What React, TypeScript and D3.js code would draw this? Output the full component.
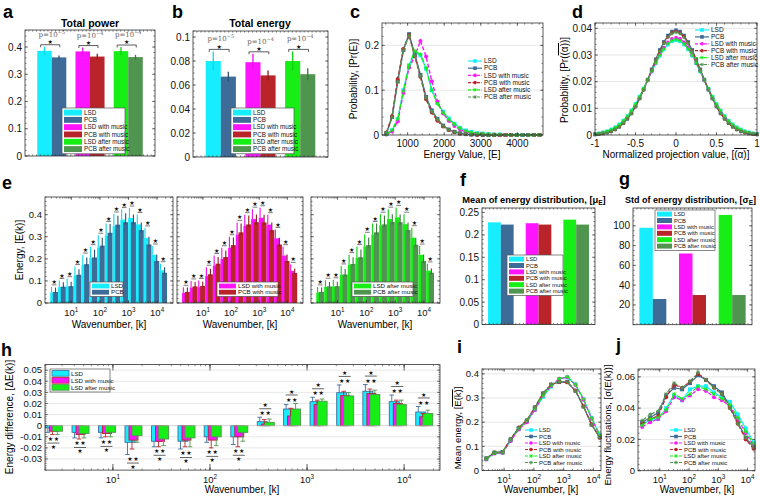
import React from "react";
import * as d3 from "d3";

const F = "Arial, 'Liberation Sans', Helvetica, sans-serif";
const SERIF = "'DejaVu Serif', 'Liberation Serif', serif";
const SYM = "'DejaVu Sans', sans-serif";

// ================= DATA =================
const seriesNames = ["LSD", "PCB", "LSD with music", "PCB with music", "LSD after music", "PCB after music"];
const seriesColors = ["#16eeff", "#3d6c98", "#ff14ff", "#b8242a", "#16ee16", "#4f944f"];
const errColors = ["#10d8ea", "#2b4f74", "#ee10ee", "#8a1a1f", "#10d010", "#3a763a"];
const seriesDash = ["none", "none", "4 2", "4 2", "5 2 1 2", "5 2 1 2"];
const seriesMarker = ["square", "square", "circle", "circle", "star", "star"];

// a: total power
const powerMeans = [0.386, 0.362, 0.384, 0.365, 0.385, 0.363];
const powerErrs = [0.015, 0.007, 0.014, 0.010, 0.015, 0.008];
const powerP = ["\u22125", "\u22124", "\u22124"];
// b: total energy
const energyMeans = [0.080, 0.067, 0.079, 0.068, 0.080, 0.069];
const energyErrs = [0.008, 0.004, 0.007, 0.004, 0.008, 0.005];
const energyP = ["\u22125", "\u22124", "\u22124"];

// c: energy distribution
const energyBins = [420, 575, 730, 885, 1040, 1195, 1350, 1505, 1660, 1815, 1970, 2125, 2280, 2435, 2590, 2745, 2900, 3055, 3210, 3365, 3520, 3675, 3830, 3985, 4140, 4295, 4450, 4605];
const probLSD = [0.002, 0.010, 0.035, 0.100, 0.155, 0.184, 0.178, 0.148, 0.100, 0.072, 0.052, 0.037, 0.025, 0.016, 0.010, 0.007, 0.004, 0.003, 0.002, 0.001, 0.001, 0, 0, 0, 0, 0, 0, 0];
const probPCB = [0.004, 0.040, 0.120, 0.190, 0.225, 0.180, 0.134, 0.085, 0.055, 0.036, 0.021, 0.012, 0.007, 0.004, 0.002, 0.001, 0.001, 0, 0, 0, 0, 0, 0, 0, 0, 0, 0, 0];
const probLSDm = [0.001, 0.008, 0.030, 0.094, 0.150, 0.176, 0.210, 0.175, 0.120, 0.075, 0.048, 0.032, 0.020, 0.012, 0.007, 0.004, 0.003, 0.002, 0.001, 0.001, 0, 0, 0, 0, 0, 0, 0, 0];
const probPCBm = [0.005, 0.042, 0.125, 0.192, 0.223, 0.176, 0.130, 0.080, 0.050, 0.032, 0.019, 0.011, 0.006, 0.003, 0.002, 0.001, 0, 0, 0, 0, 0, 0, 0, 0, 0, 0, 0, 0];
const probLSDa = [0.002, 0.011, 0.036, 0.098, 0.156, 0.188, 0.180, 0.150, 0.100, 0.070, 0.050, 0.035, 0.024, 0.015, 0.009, 0.006, 0.004, 0.003, 0.002, 0.001, 0.001, 0, 0, 0, 0, 0, 0, 0];
const probPCBa = [0.004, 0.040, 0.118, 0.190, 0.222, 0.178, 0.132, 0.083, 0.053, 0.035, 0.020, 0.012, 0.007, 0.004, 0.002, 0.001, 0.001, 0, 0, 0, 0, 0, 0, 0, 0, 0, 0, 0];

// d: projection distribution
const projBins = [-1, -0.95, -0.9, -0.85, -0.8, -0.75, -0.7, -0.65, -0.6, -0.55, -0.5, -0.45, -0.4, -0.35, -0.3, -0.25, -0.2, -0.15, -0.1, -0.05, 0, 0.05, 0.1, 0.15, 0.2, 0.25, 0.3, 0.35, 0.4, 0.45, 0.5, 0.55, 0.6, 0.65, 0.7, 0.75, 0.8, 0.85, 0.9, 0.95, 1];
const projLSD = [0.0004, 0.0006, 0.0010, 0.0014, 0.0021, 0.0029, 0.0040, 0.0054, 0.0071, 0.0092, 0.0116, 0.0144, 0.0174, 0.0206, 0.0238, 0.0269, 0.0297, 0.0321, 0.0339, 0.0351, 0.0355, 0.0351, 0.0339, 0.0321, 0.0297, 0.0269, 0.0238, 0.0206, 0.0174, 0.0144, 0.0116, 0.0092, 0.0071, 0.0054, 0.0040, 0.0029, 0.0021, 0.0014, 0.0010, 0.0006, 0.0004];
const projPCB = [0.0002, 0.0004, 0.0006, 0.0009, 0.0014, 0.0021, 0.0031, 0.0044, 0.0061, 0.0081, 0.0107, 0.0137, 0.0171, 0.0208, 0.0246, 0.0284, 0.0319, 0.0349, 0.0373, 0.0388, 0.0393, 0.0388, 0.0373, 0.0349, 0.0319, 0.0284, 0.0246, 0.0208, 0.0171, 0.0137, 0.0107, 0.0081, 0.0061, 0.0044, 0.0031, 0.0021, 0.0014, 0.0009, 0.0006, 0.0004, 0.0002];
const projLSDm = [0.0003, 0.0005, 0.0007, 0.0011, 0.0017, 0.0025, 0.0035, 0.0048, 0.0065, 0.0086, 0.0110, 0.0139, 0.0170, 0.0204, 0.0238, 0.0271, 0.0301, 0.0328, 0.0348, 0.0361, 0.0365, 0.0361, 0.0348, 0.0328, 0.0301, 0.0271, 0.0238, 0.0204, 0.0170, 0.0139, 0.0110, 0.0086, 0.0065, 0.0048, 0.0035, 0.0025, 0.0017, 0.0011, 0.0007, 0.0005, 0.0003];
const projPCBm = [0.0002, 0.0004, 0.0006, 0.0009, 0.0014, 0.0021, 0.0031, 0.0044, 0.0061, 0.0081, 0.0107, 0.0137, 0.0170, 0.0206, 0.0244, 0.0281, 0.0315, 0.0345, 0.0368, 0.0383, 0.0388, 0.0383, 0.0368, 0.0345, 0.0315, 0.0281, 0.0244, 0.0206, 0.0170, 0.0137, 0.0107, 0.0081, 0.0061, 0.0044, 0.0031, 0.0021, 0.0014, 0.0009, 0.0006, 0.0004, 0.0002];
const projLSDa = [0.0004, 0.0006, 0.0009, 0.0014, 0.0020, 0.0028, 0.0039, 0.0053, 0.0070, 0.0091, 0.0115, 0.0143, 0.0174, 0.0206, 0.0239, 0.0270, 0.0299, 0.0323, 0.0342, 0.0354, 0.0358, 0.0354, 0.0342, 0.0323, 0.0299, 0.0270, 0.0239, 0.0206, 0.0174, 0.0143, 0.0115, 0.0091, 0.0070, 0.0053, 0.0039, 0.0028, 0.0020, 0.0014, 0.0009, 0.0006, 0.0004];
const projPCBa = [0.0002, 0.0004, 0.0006, 0.0009, 0.0014, 0.0021, 0.0031, 0.0044, 0.0061, 0.0081, 0.0106, 0.0136, 0.0169, 0.0205, 0.0242, 0.0279, 0.0313, 0.0343, 0.0366, 0.0380, 0.0385, 0.0380, 0.0366, 0.0343, 0.0313, 0.0279, 0.0242, 0.0205, 0.0169, 0.0136, 0.0106, 0.0081, 0.0061, 0.0044, 0.0031, 0.0021, 0.0014, 0.0009, 0.0006, 0.0004, 0.0002];

// e, i: mean energy per wavenumber
const wavenumbers = [2.5, 4.7, 8.8, 16.5, 31, 58, 108, 203, 380, 710, 1330, 2500, 4650, 8700, 16300];
const meanLSD = [0.048, 0.072, 0.075, 0.125, 0.172, 0.205, 0.252, 0.305, 0.348, 0.378, 0.385, 0.356, 0.295, 0.218, 0.148];
const meanPCB = [0.050, 0.074, 0.076, 0.128, 0.176, 0.206, 0.260, 0.318, 0.355, 0.366, 0.366, 0.330, 0.265, 0.190, 0.137];
const meanLSDm = [0.046, 0.070, 0.072, 0.122, 0.170, 0.200, 0.250, 0.310, 0.350, 0.380, 0.386, 0.355, 0.293, 0.215, 0.145];
const meanPCBm = [0.050, 0.075, 0.077, 0.130, 0.178, 0.208, 0.262, 0.320, 0.356, 0.366, 0.365, 0.330, 0.265, 0.190, 0.136];
const meanLSDa = [0.048, 0.073, 0.075, 0.128, 0.174, 0.206, 0.256, 0.310, 0.352, 0.380, 0.388, 0.357, 0.296, 0.218, 0.147];
const meanPCBa = [0.050, 0.075, 0.076, 0.129, 0.177, 0.207, 0.262, 0.320, 0.356, 0.367, 0.366, 0.330, 0.264, 0.190, 0.137];
const errLSD = [0.025, 0.030, 0.035, 0.040, 0.045, 0.050, 0.055, 0.055, 0.055, 0.045, 0.045, 0.045, 0.045, 0.040, 0.030];
const errPCB = [0.020, 0.020, 0.020, 0.025, 0.030, 0.035, 0.035, 0.040, 0.040, 0.040, 0.035, 0.035, 0.035, 0.030, 0.025];
const errLSDm = [0.025, 0.030, 0.030, 0.040, 0.045, 0.050, 0.050, 0.055, 0.050, 0.045, 0.045, 0.045, 0.040, 0.040, 0.030];
const errPCBm = [0.020, 0.020, 0.020, 0.025, 0.030, 0.030, 0.035, 0.040, 0.040, 0.035, 0.035, 0.035, 0.030, 0.030, 0.020];
const errLSDa = [0.025, 0.030, 0.030, 0.040, 0.045, 0.050, 0.055, 0.050, 0.050, 0.045, 0.045, 0.045, 0.045, 0.040, 0.030];
const errPCBa = [0.020, 0.020, 0.020, 0.025, 0.030, 0.035, 0.035, 0.040, 0.040, 0.035, 0.035, 0.035, 0.030, 0.030, 0.020];

// f, g: mean / std of energy distribution
const distMean = [0.228, 0.223, 0.226, 0.223, 0.234, 0.223];
const distStd = [98, 26, 72, 30, 111, 30];

// h: energy difference
const diffLSD = [-0.002, -0.006, -0.006, -0.015, -0.014, -0.014, -0.010, -0.010, 0.0036, 0.015, 0.0216, 0.0297, 0.031, 0.0216, 0.0123];
const diffLSDm = [-0.005, -0.008, -0.007, -0.013, -0.014, -0.013, -0.013, -0.010, 0.0015, 0.0087, 0.019, 0.027, 0.029, 0.020, 0.008];
const diffLSDa = [-0.005, -0.007, -0.006, -0.009, -0.012, -0.011, -0.010, -0.006, 0.003, 0.015, 0.022, 0.0268, 0.028, 0.019, 0.011];
const diffErrLSD = [0.004, 0.005, 0.005, 0.011, 0.005, 0.007, 0.005, 0.007, 0.004, 0.004, 0.004, 0.007, 0.006, 0.006, 0.005];
const diffErrLSDm = [0.003, 0.004, 0.003, 0.008, 0.005, 0.006, 0.007, 0.009, 0.004, 0.007, 0.004, 0.004, 0.004, 0.003, 0.003];
const diffErrLSDa = [0.003, 0.004, 0.004, 0.006, 0.006, 0.008, 0.008, 0.008, 0.003, 0.005, 0.002, 0.003, 0.004, 0.004, 0.003];

// j: energy fluctuations
const stdLSD = [0.030, 0.032, 0.033, 0.040, 0.048, 0.045, 0.052, 0.054, 0.054, 0.050, 0.047, 0.044, 0.036, 0.027, 0.018];
const stdPCB = [0.031, 0.034, 0.037, 0.048, 0.053, 0.052, 0.056, 0.061, 0.058, 0.054, 0.050, 0.041, 0.031, 0.021, 0.015];
const stdLSDm = [0.028, 0.031, 0.033, 0.038, 0.047, 0.045, 0.048, 0.052, 0.051, 0.047, 0.045, 0.041, 0.033, 0.024, 0.016];
const stdPCBm = [0.030, 0.033, 0.035, 0.047, 0.055, 0.053, 0.057, 0.062, 0.058, 0.053, 0.049, 0.040, 0.030, 0.020, 0.014];
const stdLSDa = [0.029, 0.033, 0.034, 0.039, 0.049, 0.046, 0.049, 0.054, 0.052, 0.049, 0.046, 0.042, 0.034, 0.025, 0.017];
const stdPCBa = [0.032, 0.036, 0.038, 0.049, 0.056, 0.053, 0.057, 0.063, 0.058, 0.053, 0.049, 0.040, 0.030, 0.021, 0.015];

const probSeries = [probLSD, probPCB, probLSDm, probPCBm, probLSDa, probPCBa];
const projSeries = [projLSD, projPCB, projLSDm, projPCBm, projLSDa, projPCBa];
const meanSeries = [meanLSD, meanPCB, meanLSDm, meanPCBm, meanLSDa, meanPCBa];
const errSeries = [errLSD, errPCB, errLSDm, errPCBm, errLSDa, errPCBa];
const stdSeries = [stdLSD, stdPCB, stdLSDm, stdPCBm, stdLSDa, stdPCBa];
const diffSeries = [diffLSD, diffLSDm, diffLSDa];
const diffErrSeries = [diffErrLSD, diffErrLSDm, diffErrLSDa];
const diffIdx = [0, 2, 4];

// ================= HELPERS =================
function linRange(lo: number, hi: number, step: number) {
  const n = Math.round((hi - lo) / step);
  return d3.range(n + 1).map((i) => +(lo + i * step).toFixed(6));
}
function logMinor(lo: number, hi: number) {
  const out: number[] = [];
  for (let e = Math.floor(Math.log10(lo)); e <= Math.ceil(Math.log10(hi)); e++)
    for (let m = 1; m < 10; m++) {
      const v = m * Math.pow(10, e);
      if (v >= lo && v <= hi) out.push(v);
    }
  return out;
}
const pow10 = (e: number) => (
  <>
    <tspan>10</tspan>
    <tspan dy={-4} fontSize={6.3}>{e}</tspan>
  </>
);

function Marker({ type, x, y, color, s = 4 }: any) {
  if (type === "square") return <rect x={x - s / 2} y={y - s / 2} width={s} height={s} fill={color} />;
  if (type === "circle") return <circle cx={x} cy={y} r={s / 2} fill={color} />;
  const r = s / 2;
  const q = r * 0.7;
  return (
    <g stroke={color} strokeWidth={0.9}>
      <line x1={x - r} x2={x + r} y1={y} y2={y} />
      <line x1={x} x2={x} y1={y - r} y2={y + r} />
      <line x1={x - q} x2={x + q} y1={y - q} y2={y + q} />
      <line x1={x - q} x2={x + q} y1={y + q} y2={y - q} />
    </g>
  );
}

function LineSeries({ xs, ys, xv, yv, k, ms = 4, lw = 1.3 }: any) {
  const path = d3
    .line<number>()
    .x((_, i) => xs(xv[i]))
    .y((d) => ys(d))(yv);
  return (
    <g>
      <path d={path || ""} fill="none" stroke={seriesColors[k]} strokeWidth={lw}
        strokeDasharray={seriesDash[k] === "none" ? undefined : seriesDash[k]} />
      {yv.map((v: number, i: number) => (
        <Marker key={i} type={seriesMarker[k]} x={xs(xv[i])} y={ys(v)} color={seriesColors[k]} s={ms} />
      ))}
    </g>
  );
}

function LineLegend({ x, y, rowH, fs, lw = 14 }: any) {
  return (
    <g>
      {seriesNames.map((n, i) => {
        const yy = y + i * rowH;
        return (
          <g key={i}>
            <line x1={x} x2={x + lw} y1={yy} y2={yy} stroke={seriesColors[i]} strokeWidth={1.2}
              strokeDasharray={seriesDash[i] === "none" ? undefined : "3 1.5"} />
            <Marker type={seriesMarker[i]} x={x + lw / 2} y={yy} color={seriesColors[i]} s={3.6} />
            <text x={x + lw + 2} y={yy} dy="0.35em" fontSize={fs} fill="#111">{n}</text>
          </g>
        );
      })}
    </g>
  );
}

function BarLegend({ x, y, w, rowH, fs, idx, swW = 18, edges }: any) {
  const h = idx.length * rowH + 2;
  return (
    <g>
      <rect x={x} y={y} width={w} height={h} fill="#fff" stroke="#555" strokeWidth={0.7} />
      {idx.map((k: number, i: number) => (
        <g key={i}>
          <rect x={x + 2} y={y + 1.6 + i * rowH} width={swW} height={rowH - 1.4} fill={seriesColors[k]}
            stroke={edges ? edges[i] : "none"} strokeWidth={0.8} />
          <text x={x + swW + 4} y={y + 1 + (i + 0.5) * rowH} dy="0.35em" fontSize={fs} fill="#111">{seriesNames[k]}</text>
        </g>
      ))}
    </g>
  );
}

function Grid({ x0, x1, ys, ticks }: any) {
  return (
    <g>
      {ticks.map((t: number, i: number) => (
        <line key={i} x1={x0} x2={x1} y1={ys(t)} y2={ys(t)} stroke="#e4e4e4" strokeWidth={0.9} />
      ))}
    </g>
  );
}

function Frame(p: any) {
  const { x0, x1, y0, y1, xs, ys, yTicks = [], yLabels, yMinor = [], xTicks = [], xLabels, xMinor = [], fs = 9.5, xLabelY } = p;
  const L = 3, m = 1.6;
  const els: any[] = [];
  yMinor.forEach((t: number, i: number) => {
    const yy = ys(t);
    els.push(<line key={"ym" + i} x1={x0} x2={x0 + m} y1={yy} y2={yy} />);
    els.push(<line key={"yn" + i} x1={x1} x2={x1 - m} y1={yy} y2={yy} />);
  });
  yTicks.forEach((t: number, i: number) => {
    const yy = ys(t);
    els.push(<line key={"yt" + i} x1={x0} x2={x0 + L} y1={yy} y2={yy} />);
    els.push(<line key={"yu" + i} x1={x1} x2={x1 - L} y1={yy} y2={yy} />);
  });
  xMinor.forEach((t: number, i: number) => {
    const xx = xs(t);
    els.push(<line key={"xm" + i} x1={xx} x2={xx} y1={y1} y2={y1 - m} />);
    els.push(<line key={"xn" + i} x1={xx} x2={xx} y1={y0} y2={y0 + m} />);
  });
  xTicks.forEach((t: number, i: number) => {
    const xx = xs(t);
    els.push(<line key={"xt" + i} x1={xx} x2={xx} y1={y1} y2={y1 - L} />);
    els.push(<line key={"xu" + i} x1={xx} x2={xx} y1={y0} y2={y0 + L} />);
  });
  return (
    <g>
      <g stroke="#333" strokeWidth={0.6}>{els}</g>
      <rect x={x0} y={y0} width={x1 - x0} height={y1 - y0} fill="none" stroke="#333" strokeWidth={0.8} />
      {yLabels && yTicks.map((t: number, i: number) => (
        <text key={"yl" + i} x={x0 - 3} y={ys(t)} dy="0.35em" textAnchor="end" fontSize={fs} fill="#111">{yLabels[i]}</text>
      ))}
      {xLabels && xTicks.map((t: number, i: number) => (
        <text key={"xl" + i} x={xs(t)} y={xLabelY ?? y1 + 11} textAnchor="middle" fontSize={fs} fill="#111">{xLabels[i]}</text>
      ))}
    </g>
  );
}

function Star({ x, y, s = 6 }: any) {
  return <text x={x} y={y} dy="0.35em" textAnchor="middle" fontSize={s} fontFamily={SYM} fill="#111">{"\u2605"}</text>;
}

function PanelLabel({ x, y, t }: any) {
  return <text x={x} y={y} fontSize={18} fontWeight="bold" fill="#000">{t}</text>;
}

// ================= PANELS =================
function BarPanel({ box, yDomain, means, errs, pvals, yTicks, yLabels, yMinor, title, titleX, legendX }: any) {
  const [x0, x1, y0, y1] = box;
  const xs = d3.scaleLinear().domain([0.3, 3.7]).range([x0, x1]);
  const ys = d3.scaleLinear().domain(yDomain).range([y1, y0]);
  const bw = 0.38;
  const wpx = xs(bw) - xs(0);
  return (
    <g>
      {means.map((v: number, i: number) => {
        const g = Math.floor(i / 2) + 1;
        const left = i % 2 === 0 ? xs(g - bw) : xs(g);
        return <rect key={i} x={left} y={ys(v)} width={wpx} height={ys(0) - ys(v)} fill={seriesColors[i]} />;
      })}
      {means.map((v: number, i: number) => {
        const g = Math.floor(i / 2) + 1;
        const cx = i % 2 === 0 ? xs(g - bw / 2) : xs(g + bw / 2);
        return <line key={i} x1={cx} x2={cx} y1={ys(v - errs[i])} y2={ys(v + errs[i])} stroke={errColors[i]} strokeWidth={1.3} />;
      })}
      {pvals.map((p: string, gi: number) => {
        const g = gi + 1;
        const top = Math.max(means[gi * 2] + errs[gi * 2], means[gi * 2 + 1] + errs[gi * 2 + 1]);
        const ly = ys(top) - 2;
        const xa = xs(g - bw / 2 - 0.1);
        const xb = xs(g + bw / 2 + 0.02);
        return (
          <g key={gi}>
            <path d={`M${xa},${ly + 2.5}V${ly}H${xb}V${ly + 2.5}`} fill="none" stroke="#333" strokeWidth={0.8} />
            <Star x={(xa + xb) / 2} y={ly - 3} s={6} />
            <text x={xs(g)} y={ly - 8} textAnchor="middle" fontFamily={SERIF} fontSize={7} fill="#666">
              p=10<tspan dy={-3} fontSize={5}>{p}</tspan>
            </text>
          </g>
        );
      })}
      <Frame x0={x0} x1={x1} y0={y0} y1={y1} xs={xs} ys={ys} yTicks={yTicks} yLabels={yLabels} yMinor={yMinor}
        xMinor={linRange(0.4, 3.6, 0.1)} fs={10} />
      <text x={titleX} y={27} textAnchor="middle" fontWeight="bold" fontSize={10.5}>{title}</text>
      <BarLegend x={legendX} y={108} w={63} rowH={7.3} fs={6.3} idx={[0, 1, 2, 3, 4, 5]} swW={18} />
    </g>
  );
}

function PanelC() {
  const x0 = 382, x1 = 543, y0 = 23, y1 = 135;
  const xs = d3.scaleLinear().domain([300, 4700]).range([x0, x1]);
  const ys = d3.scaleLinear().domain([0, 0.25]).range([y1, y0]);
  return (
    <g>
      <Grid x0={x0} x1={x1} ys={ys} ticks={[0.1, 0.2]} />
      {probSeries.map((s, k) => <LineSeries key={k} xs={xs} ys={ys} xv={energyBins} yv={s} k={k} ms={4} lw={1.4} />)}
      <Frame x0={x0} x1={x1} y0={y0} y1={y1} xs={xs} ys={ys} yTicks={[0, 0.1, 0.2]} yLabels={["0", "0.1", "0.2"]}
        yMinor={linRange(0, 0.24, 0.02)} xTicks={[1000, 2000, 3000, 4000]} xLabels={["1000", "2000", "3000", "4000"]}
        xMinor={linRange(400, 4600, 200)} fs={10} xLabelY={147} />
      <LineLegend x={468} y={61} rowH={7.2} fs={6.5} />
      <text x={462} y={158} textAnchor="middle" fontSize={10}>Energy Value, [E]</text>
      <text transform="translate(357,79) rotate(-90)" textAnchor="middle" fontSize={10}>Probability, [Pr(E)]</text>
    </g>
  );
}

function PanelD() {
  const x0 = 595, x1 = 757, y0 = 23, y1 = 135;
  const xs = d3.scaleLinear().domain([-1, 1]).range([x0, x1]);
  const ys = d3.scaleLinear().domain([0, 0.042]).range([y1, y0]);
  return (
    <g>
      <Grid x0={x0} x1={x1} ys={ys} ticks={[0.01, 0.02, 0.03, 0.04]} />
      {projSeries.map((s, k) => <LineSeries key={k} xs={xs} ys={ys} xv={projBins} yv={s} k={k} ms={3.6} lw={1.2} />)}
      <Frame x0={x0} x1={x1} y0={y0} y1={y1} xs={xs} ys={ys} yTicks={[0, 0.01, 0.02, 0.03, 0.04]}
        yLabels={["0", "0.01", "0.02", "0.03", "0.04"]} yMinor={linRange(0, 0.042, 0.002)}
        xTicks={[-1, -0.5, 0, 0.5, 1]} xLabels={["-1", "-0.5", "0", "0.5", "1"]} xMinor={linRange(-1, 1, 0.1)} fs={10} xLabelY={147} />
      <LineLegend x={695} y={30} rowH={6.9} fs={6.5} />
      <text x={676} y={158} textAnchor="middle" fontSize={10}>
        Normalized projection value, [<tspan textDecoration="overline">(α)</tspan>]
      </text>
      <text transform="translate(568,80) rotate(-90)" textAnchor="middle" fontSize={10}>
        Probability, [Pr(<tspan textDecoration="overline">(α)</tspan>)]
      </text>
    </g>
  );
}

function PanelE() {
  const y0 = 197, y1 = 303;
  const ys = d3.scaleLinear().domain([0, 0.48]).range([y1, y0]);
  const boxes = [[45, 173], [177, 303], [311, 440]];
  const legends = [[90, 33], [217, 61], [352, 61]];
  const xlabX = [109, 240, 375];
  return (
    <g>
      {boxes.map(([x0, x1], si) => {
        const xs = d3.scaleLog().domain([1.2, 36000]).range([x0, x1]);
        const ia = si * 2, ib = si * 2 + 1;
        const ma = meanSeries[ia], mb = meanSeries[ib], ea = errSeries[ia], eb = errSeries[ib];
        return (
          <g key={si}>
            {wavenumbers.map((k, i) => {
              const cx = xs(k);
              return (
                <g key={i}>
                  <rect x={cx - 3.9} y={ys(ma[i])} width={4.9} height={ys(0) - ys(ma[i])} fill={seriesColors[ia]} />
                  <rect x={cx - 1.2} y={ys(mb[i])} width={5.1} height={ys(0) - ys(mb[i])} fill={seriesColors[ib]} />
                  <line x1={cx - 2.6} x2={cx - 2.6} y1={ys(ma[i])} y2={ys(ma[i] + ea[i])} stroke={errColors[ia]} strokeWidth={1.1} />
                  <line x1={cx + 1.4} x2={cx + 1.4} y1={ys(mb[i] - eb[i] * 0.3)} y2={ys(mb[i] + eb[i])} stroke={errColors[ib]} strokeWidth={1.1} />
                </g>
              );
            })}
            {wavenumbers.map((k, i) => {
              const cx = xs(k);
              const top = ys(Math.max(ma[i] + ea[i], mb[i] + eb[i]));
              return (
                <g key={"s" + i}>
                  <line x1={cx - 2.4} x2={cx + 2.4} y1={top - 2} y2={top - 2} stroke="#222" strokeWidth={0.6} />
                  <Star x={cx} y={top - 5} s={6} />
                </g>
              );
            })}
            <Frame x0={x0} x1={x1} y0={y0} y1={y1} xs={xs} ys={ys} yTicks={[0, 0.1, 0.2, 0.3, 0.4]}
              yLabels={si === 0 ? ["0", "0.1", "0.2", "0.3", "0.4"] : undefined} yMinor={linRange(0, 0.48, 0.02)}
              xTicks={[10, 100, 1000, 10000]} xLabels={[pow10(1), pow10(2), pow10(3), pow10(4)]}
              xMinor={logMinor(1.2, 36000)} fs={9.5} xLabelY={316} />
            <BarLegend x={legends[si][0]} y={282} w={legends[si][1]} rowH={6.2} fs={6.2} idx={[ia, ib]} swW={17} />
            <text x={xlabX[si]} y={328} textAnchor="middle" fontSize={10}>Wavenumber, [k]</text>
          </g>
        );
      })}
      <text transform="translate(23,250) rotate(-90)" textAnchor="middle" fontSize={10}>Energy, [E(k)]</text>
    </g>
  );
}

function SmallBarPanel({ box, yDomain, values, yTicks, yLabels, yMinor, legend }: any) {
  const [x0, x1, y0, y1] = box;
  const xs = d3.scaleLinear().domain([0.5, 3.5]).range([x0, x1]);
  const ys = d3.scaleLinear().domain(yDomain).range([y1, y0]);
  const bw = 0.34;
  return (
    <g>
      {values.map((v: number, i: number) => {
        const g = Math.floor(i / 2) + 1;
        const left = i % 2 === 0 ? xs(g - bw) : xs(g);
        return <rect key={i} x={left} y={ys(v)} width={xs(bw) - xs(0)} height={ys(0) - ys(v)} fill={seriesColors[i]} />;
      })}
      <Frame x0={x0} x1={x1} y0={y0} y1={y1} xs={xs} ys={ys} yTicks={yTicks} yLabels={yLabels} yMinor={yMinor}
        xMinor={linRange(0.6, 3.4, 0.1)} fs={10} />
      <BarLegend x={legend[0]} y={legend[1]} w={legend[2]} rowH={6.4} fs={5.8} idx={[0, 1, 2, 3, 4, 5]} swW={15} />
    </g>
  );
}

function PanelH() {
  const x0 = 45, x1 = 440, y0 = 364.6, y1 = 470.1;
  const xs = d3.scaleLog().domain([2, 23400]).range([x0, x1]);
  const ys = d3.scaleLinear().domain([-0.04, 0.055]).range([y1, y0]);
  const off = [[-9, 1], [-5, 4], [-2, 8]];
  const errX = [-6.5, -2, 3];
  const edges = [seriesColors[1], seriesColors[3], seriesColors[5]];
  const yt = linRange(-0.03, 0.05, 0.01);
  return (
    <g>
      <Grid x0={x0} x1={x1} ys={ys} ticks={yt.filter((t) => t !== 0)} />
      {wavenumbers.map((k, i) => {
        const cx = xs(k);
        return (
          <g key={i}>
            {diffSeries.map((s, j) => {
              const v = s[i];
              return (
                <rect key={j} x={cx + off[j][0]} width={off[j][1] - off[j][0]} y={Math.min(ys(0), ys(v))}
                  height={Math.abs(ys(v) - ys(0))} fill={seriesColors[diffIdx[j]]} stroke={edges[j]} strokeWidth={0.9} />
              );
            })}
            {diffSeries.map((s, j) => {
              const v = s[i];
              const sg = v >= 0 ? 1 : -1;
              const e = diffErrSeries[j][i];
              const xx = cx + errX[j];
              const ye = ys(v + sg * e);
              return (
                <g key={"e" + j} stroke={edges[j]} strokeWidth={0.9}>
                  <line x1={xx} x2={xx} y1={ys(v)} y2={ye} />
                  <line x1={xx - 2.3} x2={xx + 2.3} y1={ye} y2={ye} />
                </g>
              );
            })}
          </g>
        );
      })}
      {wavenumbers.map((k, i) => {
        const cx = xs(k);
        const sg = diffSeries[0][i] >= 0 ? 1 : -1;
        const tips = diffSeries.map((s, j) => s[i] + sg * diffErrSeries[j][i]);
        const tip = ys(sg > 0 ? Math.max(...tips) : Math.min(...tips));
        const d = -sg;
        return (
          <g key={"st" + i}>
            <Star x={cx - 4} y={tip + d * 4} s={6} />
            <Star x={cx + 2} y={tip + d * 4} s={6} />
            <line x1={cx - 7} x2={cx + 5} y1={tip + d * 8.5} y2={tip + d * 8.5} stroke="#222" strokeWidth={0.7} />
            <Star x={cx - 1} y={tip + d * 12} s={6} />
          </g>
        );
      })}
      <line x1={x0} x2={x1} y1={ys(0)} y2={ys(0)} stroke="#bbb" strokeWidth={0.6} />
      {[10, 100, 1000, 10000].map((t, i) => (
        <g key={i} stroke="#999" strokeWidth={1.6}>
          <line x1={xs(t)} x2={xs(t)} y1={y0} y2={y0 + 6} />
          <line x1={xs(t)} x2={xs(t)} y1={y1} y2={y1 - 6} />
        </g>
      ))}
      <Frame x0={x0} x1={x1} y0={y0} y1={y1} xs={xs} ys={ys} yTicks={yt}
        yLabels={["-0.03", "-0.02", "-0.01", "0", "0.01", "0.02", "0.03", "0.04", "0.05"]}
        yMinor={linRange(-0.04, 0.054, 0.002)} xTicks={[10, 100, 1000, 10000]}
        xLabels={[pow10(1), pow10(2), pow10(3), pow10(4)]} xMinor={logMinor(2, 23400)} fs={9.5} xLabelY={483} />
      <BarLegend x={50} y={369} w={60} rowH={7} fs={6.2} idx={diffIdx} swW={17} edges={edges} />
      <text x={242} y={493} textAnchor="middle" fontSize={10}>Wavenumber, [k]</text>
      <text transform="translate(13,417) rotate(-90)" textAnchor="middle" fontSize={10}>Energy difference, [ΔE(k)]</text>
    </g>
  );
}

function LogLinePanel({ box, yDomain, series, yTicks, yLabels, yMinor, legendX, xlabX, ylab, ylabX, ylabY }: any) {
  const [x0, x1, y0, y1] = box;
  const xs = d3.scaleLog().domain([1.8, 18000]).range([x0, x1]);
  const ys = d3.scaleLinear().domain(yDomain).range([y1, y0]);
  return (
    <g>
      <Grid x0={x0} x1={x1} ys={ys} ticks={yTicks.filter((t: number) => t !== 0)} />
      {series.map((s: number[], k: number) => <LineSeries key={k} xs={xs} ys={ys} xv={wavenumbers} yv={s} k={k} ms={4} lw={1.2} />)}
      <Frame x0={x0} x1={x1} y0={y0} y1={y1} xs={xs} ys={ys} yTicks={yTicks} yLabels={yLabels} yMinor={yMinor}
        xTicks={[10, 100, 1000, 10000]} xLabels={[pow10(1), pow10(2), pow10(3), pow10(4)]}
        xMinor={logMinor(1.8, 18000)} fs={9.5} xLabelY={483} />
      <LineLegend x={legendX} y={430} rowH={6.5} fs={6} lw={12} />
      <text x={xlabX} y={493} textAnchor="middle" fontSize={10}>Wavenumber, [k]</text>
      <text transform={`translate(${ylabX},${ylabY}) rotate(-90)`} textAnchor="middle" fontSize={9.5}>{ylab}</text>
    </g>
  );
}

export default function App() {
  return (
    <svg width={760} height={498} viewBox="0 0 760 498" fontFamily={F}
      style={{ position: "absolute", left: 0, top: 0, display: "block", background: "#fff" }}>
      <rect x={0} y={0} width={760} height={498} fill="#fff" />
      {/* a */}
      <BarPanel box={[25, 155, 30, 156]} yDomain={[0, 0.4625]} means={powerMeans} errs={powerErrs} pvals={powerP}
        yTicks={[0, 0.1, 0.2, 0.3, 0.4]} yLabels={["0", "0.1", "0.2", "0.3", "0.4"]} yMinor={linRange(0, 0.46, 0.02)}
        title="Total power" titleX={90} legendX={62} />
      {/* b */}
      <BarPanel box={[193, 328, 31, 157]} yDomain={[0, 0.105]} means={energyMeans} errs={energyErrs} pvals={energyP}
        yTicks={[0, 0.02, 0.04, 0.06, 0.08, 0.1]} yLabels={["0", "0.02", "0.04", "0.06", "0.08", "0.1"]}
        yMinor={linRange(0, 0.105, 0.005)} title="Total energy" titleX={260} legendX={231} />
      <PanelC />
      <PanelD />
      <PanelE />
      {/* f */}
      <SmallBarPanel box={[482, 595, 208, 324.5]} yDomain={[0, 0.26]} values={distMean}
        yTicks={[0, 0.05, 0.1, 0.15, 0.2, 0.25]} yLabels={["0", "0.05", "0.1", "0.15", "0.2", "0.25"]}
        yMinor={linRange(0, 0.26, 0.01)} legend={[507, 255, 56]} />
      <text x={534} y={203} textAnchor="middle" fontWeight="bold" fontSize={9.3}>
        Mean of energy distribution, [μ<tspan dy={2} fontSize={6.5}>E</tspan><tspan dy={-2}>]</tspan>
      </text>
      {/* g */}
      <SmallBarPanel box={[633, 752, 208, 324.7]} yDomain={[0, 118]} values={distStd}
        yTicks={[20, 40, 60, 80, 100]} yLabels={["20", "40", "60", "80", "100"]}
        yMinor={linRange(0, 115, 5)} legend={[655, 210, 60]} />
      <text x={756} y={203} textAnchor="end" fontWeight="bold" fontSize={9}>
        Std of energy distribution, [σ<tspan dy={2} fontSize={6.5}>E</tspan><tspan dy={-2}>]</tspan>
      </text>
      <PanelH />
      {/* i */}
      <LogLinePanel box={[482, 601, 369, 470.5]} yDomain={[0, 0.42]} series={meanSeries}
        yTicks={[0, 0.1, 0.2, 0.3, 0.4]} yLabels={["0", "0.1", "0.2", "0.3", "0.4"]} yMinor={linRange(0, 0.42, 0.02)}
        legendX={525} xlabX={541} ylabX={461} ylabY={428}
        ylab={<>Mean energy, [<tspan textDecoration="overline">E(k)</tspan>]</>} />
      {/* j */}
      <LogLinePanel box={[638, 755, 369, 470.7]} yDomain={[0, 0.065]} series={stdSeries}
        yTicks={[0, 0.02, 0.04, 0.06]} yLabels={["0", "0.02", "0.04", "0.06"]} yMinor={linRange(0, 0.064, 0.004)}
        legendX={670} xlabX={697} ylabX={611} ylabY={425}
        ylab={<>Energy fluctuations, [σ(E(k))]</>} />
      <PanelLabel x={3} y={18} t="a" />
      <PanelLabel x={172} y={18} t="b" />
      <PanelLabel x={350} y={18} t="c" />
      <PanelLabel x={572} y={18} t="d" />
      <PanelLabel x={2} y={189} t="e" />
      <PanelLabel x={460} y={186} t="f" />
      <PanelLabel x={619} y={185} t="g" />
      <PanelLabel x={1} y={356} t="h" />
      <PanelLabel x={457} y={353} t="i" />
      <PanelLabel x={616} y={351} t="j" />
    </svg>
  );
}
